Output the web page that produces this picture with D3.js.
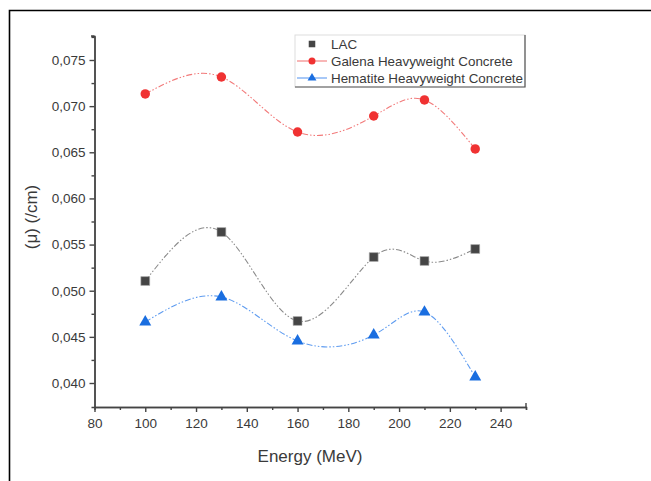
<!DOCTYPE html>
<html>
<head>
<meta charset="utf-8">
<script src="https://cdn.jsdelivr.net/npm/d3@7"></script>
<style>
  body { margin: 0; background: #fff; }
  svg { display: block; font-family: "Liberation Sans", Arial, sans-serif; }
</style>
</head>
<body>
<svg width="651" height="481"></svg>
<script>
// energies (MeV)
var energy = [100, 130, 160, 190, 210, 230];
// linear attenuation coefficients (/cm)
var lac = [0.05105, 0.05636, 0.04672, 0.05365, 0.05322, 0.05452];
var galena = [0.07132, 0.07316, 0.06720, 0.06893, 0.07067, 0.06536];
var hematite = [0.04661, 0.04932, 0.04455, 0.04520, 0.04769, 0.04065];
var seriesNames = ["LAC", "Galena Heavyweight Concrete", "Hematite Heavyweight Concrete"];
var xTicks = [80, 100, 120, 140, 160, 180, 200, 220, 240];
var yTicks = [0.040, 0.045, 0.050, 0.055, 0.060, 0.065, 0.070, 0.075];

var svg = d3.select("svg");

// outer frame (left + top edge only)
svg.append("path").attr("d", "M9.5,481V10.5H651").attr("fill", "none").attr("stroke", "#000").attr("stroke-width", 1.6);

var x = d3.scaleLinear().domain([80, 250]).range([94.5, 526]);
var y = d3.scaleLinear().domain([0.0374, 0.0776]).range([407, 36]);

var axisColor = "#444", textColor = "#3a3a3a";
var fmt = function(d) { return d3.format(".3f")(d).replace(".", ","); };

// x axis
var gx = svg.append("g").attr("transform", "translate(0,407)");
gx.call(d3.axisBottom(x).tickValues(xTicks).tickSize(5).tickSizeOuter(0).tickPadding(6));
gx.append("g").call(d3.axisBottom(x).tickValues(d3.range(90, 251, 20)).tickSize(3).tickFormat(""));
gx.selectAll("path.domain").attr("stroke", axisColor).attr("stroke-width", 1.4);
gx.selectAll("line").attr("stroke", axisColor).attr("stroke-width", 1.4);
gx.selectAll("text").attr("font-size", 13.5).attr("fill", textColor).attr("font-family", "Liberation Sans, Arial, sans-serif");
// small cap at the right end of x axis
svg.append("line").attr("x1", x(250)).attr("x2", x(250)).attr("y1", 407).attr("y2", 403).attr("stroke", axisColor).attr("stroke-width", 1.4);

// y axis
var gy = svg.append("g").attr("transform", "translate(94.5,0)");
gy.call(d3.axisLeft(y).tickValues(yTicks).tickSize(5).tickSizeOuter(0).tickPadding(4).tickFormat(fmt));
gy.append("g").call(d3.axisLeft(y).tickValues(d3.range(0.0425, 0.078, 0.005)).tickSize(3).tickFormat(""));
gy.selectAll("path.domain").attr("stroke", axisColor).attr("stroke-width", 1.4);
gy.selectAll("line").attr("stroke", axisColor).attr("stroke-width", 1.4);
gy.selectAll("text").attr("font-size", 13.5).attr("fill", textColor).attr("font-family", "Liberation Sans, Arial, sans-serif");
svg.append("line").attr("x1", 91).attr("x2", 94.5).attr("y1", 36).attr("y2", 36).attr("stroke", axisColor).attr("stroke-width", 1.4);

// axis titles
svg.append("text").attr("x", 310).attr("y", 462).attr("text-anchor", "middle")
  .attr("font-size", 17).attr("fill", textColor).text("Energy (MeV)");
svg.append("text").attr("transform", "translate(37,217) rotate(-90)").attr("text-anchor", "middle")
  .attr("font-size", 17).attr("fill", textColor).text("(\u03bc) (/cm)");

var series = [
  { name: seriesNames[0], values: lac, line: "#8a8a8a", mark: "#454545", sym: d3.symbolSquare, size: 78 },
  { name: seriesNames[1], values: galena, line: "#f27a7a", mark: "#f03232", sym: d3.symbolCircle, size: 70 },
  { name: seriesNames[2], values: hematite, line: "#5f9cf0", mark: "#1a6ee0", sym: d3.symbolTriangle, size: 62 }
];

var line = d3.line()
  .x(function(d, i) { return x(energy[i]); })
  .y(function(d) { return y(d); })
  .curve(d3.curveNatural);

series.forEach(function(s) {
  svg.append("path").datum(s.values)
    .attr("d", line)
    .attr("fill", "none")
    .attr("stroke", s.line)
    .attr("stroke-width", 1.1)
    .attr("stroke-dasharray", "6,2,1.5,2,1.5,2");
  svg.selectAll(null).data(s.values).enter().append("path")
    .attr("d", d3.symbol().type(s.sym).size(s.size))
    .attr("transform", function(d, i) { return "translate(" + x(energy[i]) + "," + y(d) + ")"; })
    .attr("fill", s.mark)
    .attr("stroke", s.sym === d3.symbolSquare ? "#aaa" : "none")
    .attr("stroke-width", 0.6);
});

// legend
var lg = svg.append("g").attr("transform", "translate(295,35)");
lg.append("rect").attr("width", 230).attr("height", 52).attr("fill", "#fff").attr("stroke", "#ddd").attr("stroke-width", 1);
lg.append("path").attr("d", "M230,0V52H0").attr("fill", "none").attr("stroke", "#555").attr("stroke-width", 1.2);
series.forEach(function(s, i) {
  var row = lg.append("g").attr("transform", "translate(0," + (9 + i * 17) + ")");
  if (i > 0) {
    row.append("line").attr("x1", 2).attr("x2", 32).attr("stroke", s.line).attr("stroke-width", 1.1);
  }
  row.append("path").attr("d", d3.symbol().type(s.sym).size(s.size * 0.55)).attr("transform", "translate(17,0)").attr("fill", s.mark);
  row.append("text").attr("x", 36).attr("y", 4.5).attr("font-size", 13.4).attr("fill", textColor).text(s.name);
});
</script>
</body>
</html>
